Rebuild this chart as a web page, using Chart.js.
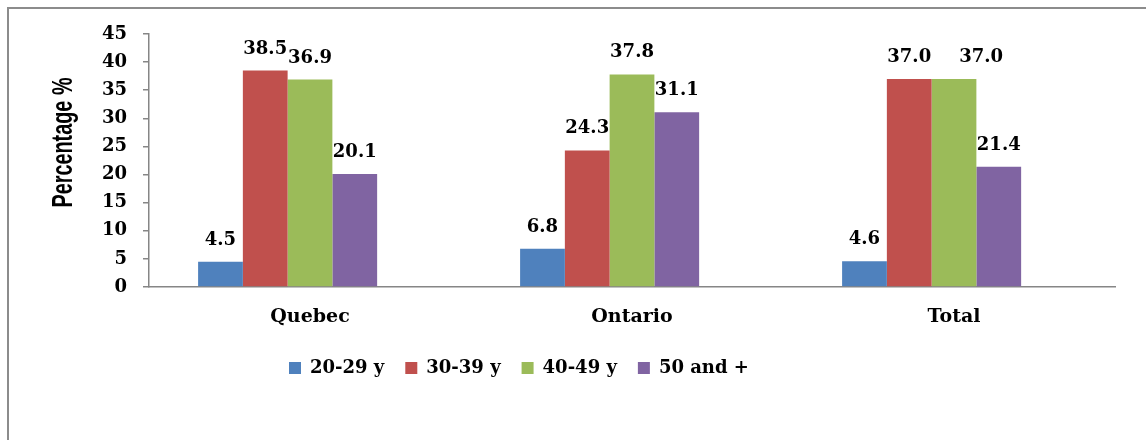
<!DOCTYPE html>
<html>
<head>
<meta charset="utf-8">
<script src="https://cdn.jsdelivr.net/npm/chart.js@4.4.1/dist/chart.umd.min.js"></script>
<style>
  html, body { margin: 0; padding: 0; background: #ffffff; overflow: hidden; }
  #chart { display: block; }
</style>
</head>
<body>
<canvas id="chart" width="1146" height="440"></canvas>
<script>
// Age-group shares by province
const regions = ['Quebec', 'Ontario', 'Total'];
const ageGroups = ['20-29 y', '30-39 y', '40-49 y', '50 and +'];
const age20to29 = [4.5, 6.8, 4.6];
const age30to39 = [38.5, 24.3, 37.0];
const age40to49 = [36.9, 37.8, 37.0];
const age50plus = [20.1, 31.1, 21.4];
const emptySlot = [null, null, null];
const yTicks = [0, 5, 10, 15, 20, 25, 30, 35, 40, 45];
const seriesColors = ['#4F81BD', '#C0504D', '#9BBB59', '#8064A2'];

const serif = '"DejaVu Serif", "Liberation Serif", serif';
const axisGray = '#868686';

const seriesValues = [age20to29, age30to39, age40to49, age50plus];
const datasets = seriesValues.map((vals, i) => ({
  label: ageGroups[i],
  data: vals,
  backgroundColor: seriesColors[i],
  borderWidth: 0
}));
// empty fifth slot keeps each group shifted left of its category label
datasets.push({ label: '', data: emptySlot, backgroundColor: 'rgba(0,0,0,0)', borderWidth: 0 });

// outer frame of the chart box (left and top edges)
const frame = {
  id: 'frame',
  beforeDraw(chart) {
    const ctx = chart.ctx;
    ctx.save();
    ctx.strokeStyle = '#8c8c8c';
    ctx.lineWidth = 2;
    ctx.beginPath();
    ctx.moveTo(8, chart.height);
    ctx.lineTo(8, 8);
    ctx.lineTo(chart.width, 8);
    ctx.stroke();
    ctx.restore();
  }
};

// value labels above each bar; a label level with its left neighbour
// that would collide with it is pushed to the right
const valueLabels = {
  id: 'valueLabels',
  afterDatasetsDraw(chart) {
    const ctx = chart.ctx;
    ctx.save();
    ctx.font = 'bold 18px ' + serif;
    ctx.fillStyle = '#000';
    ctx.textAlign = 'left';
    ctx.textBaseline = 'alphabetic';
    const gap = 28;
    regions.forEach((_, i) => {
      let prev = null;
      for (let d = 0; d < seriesValues.length; d++) {
        const v = seriesValues[d][i];
        if (v == null) continue;
        const bar = chart.getDatasetMeta(d).data[i];
        const text = v.toFixed(1);
        const w = ctx.measureText(text).width;
        const y = bar.y - 17;
        let left = bar.x - w / 2;
        if (prev && Math.abs(prev.y - y) < 4 && left < prev.right + 2) {
          left = prev.right + gap;
        }
        ctx.fillText(text, left, y);
        prev = { right: left + w, y };
      }
    });
    ctx.restore();
  }
};

const yTitle = {
  id: 'yTitle',
  afterDraw(chart) {
    const ctx = chart.ctx;
    const text = 'Percentage %';
    ctx.save();
    ctx.font = 'bold 30px "Liberation Sans Narrow", "Liberation Sans", Arial, sans-serif';
    const w = ctx.measureText(text).width;
    const targetLen = 130;
    ctx.translate(72, 142.5);
    ctx.rotate(-Math.PI / 2);
    ctx.scale(targetLen / w, 1);
    ctx.fillStyle = '#000';
    ctx.textAlign = 'center';
    ctx.textBaseline = 'alphabetic';
    ctx.fillText(text, 0, 0);
    ctx.restore();
  }
};

// shift the legend row so it starts under the first group
const legendShift = {
  id: 'legendShift',
  afterLayout(chart) {
    const lg = chart.legend;
    if (!lg || !lg.lineWidths) return;
    const pad = lg.options.labels.padding;
    const startX = (lg.left + pad + lg.right - lg.lineWidths[0]) / 2;
    const d = 289 - startX;
    lg.left += d;
    lg.right += d;
    if (lg.adjustHitBoxes) lg.adjustHitBoxes();
  }
};

new Chart(document.getElementById('chart'), {
  type: 'bar',
  data: { labels: regions, datasets },
  plugins: [frame, valueLabels, yTitle, legendShift],
  options: {
    responsive: false,
    animation: false,
    events: [],
    layout: { padding: { left: 0, top: 34, right: 31, bottom: 53 } },
    datasets: { bar: { categoryPercentage: 0.695, barPercentage: 1.0 } },
    scales: {
      x: {
        grid: { display: false, drawTicks: false },
        border: { display: true, color: axisGray, width: 1.5 },
        ticks: { color: '#000', font: { family: serif, size: 19, weight: 'bold' }, padding: 19 },
        afterFit(scale) { scale.height = 51; }
      },
      y: {
        min: 0, max: 45,
        afterBuildTicks(scale) { scale.ticks = yTicks.map(v => ({ value: v })); },
        grid: { drawOnChartArea: false, drawTicks: true, tickLength: 6, color: axisGray, lineWidth: 1.5 },
        border: { display: true, color: axisGray, width: 1.5 },
        ticks: { color: '#000', font: { family: serif, size: 18, weight: 'bold' }, padding: 16 },
        afterFit(scale) { scale.width = 149; }
      }
    },
    plugins: {
      tooltip: { enabled: false },
      legend: {
        position: 'bottom',
        labels: {
          filter: (item) => item.datasetIndex < seriesValues.length,
          boxWidth: 12, boxHeight: 12, padding: 21,
          color: '#000',
          font: { family: serif, size: 18, weight: 'bold' }
        }
      }
    }
  }
});
</script>
</body>
</html>
